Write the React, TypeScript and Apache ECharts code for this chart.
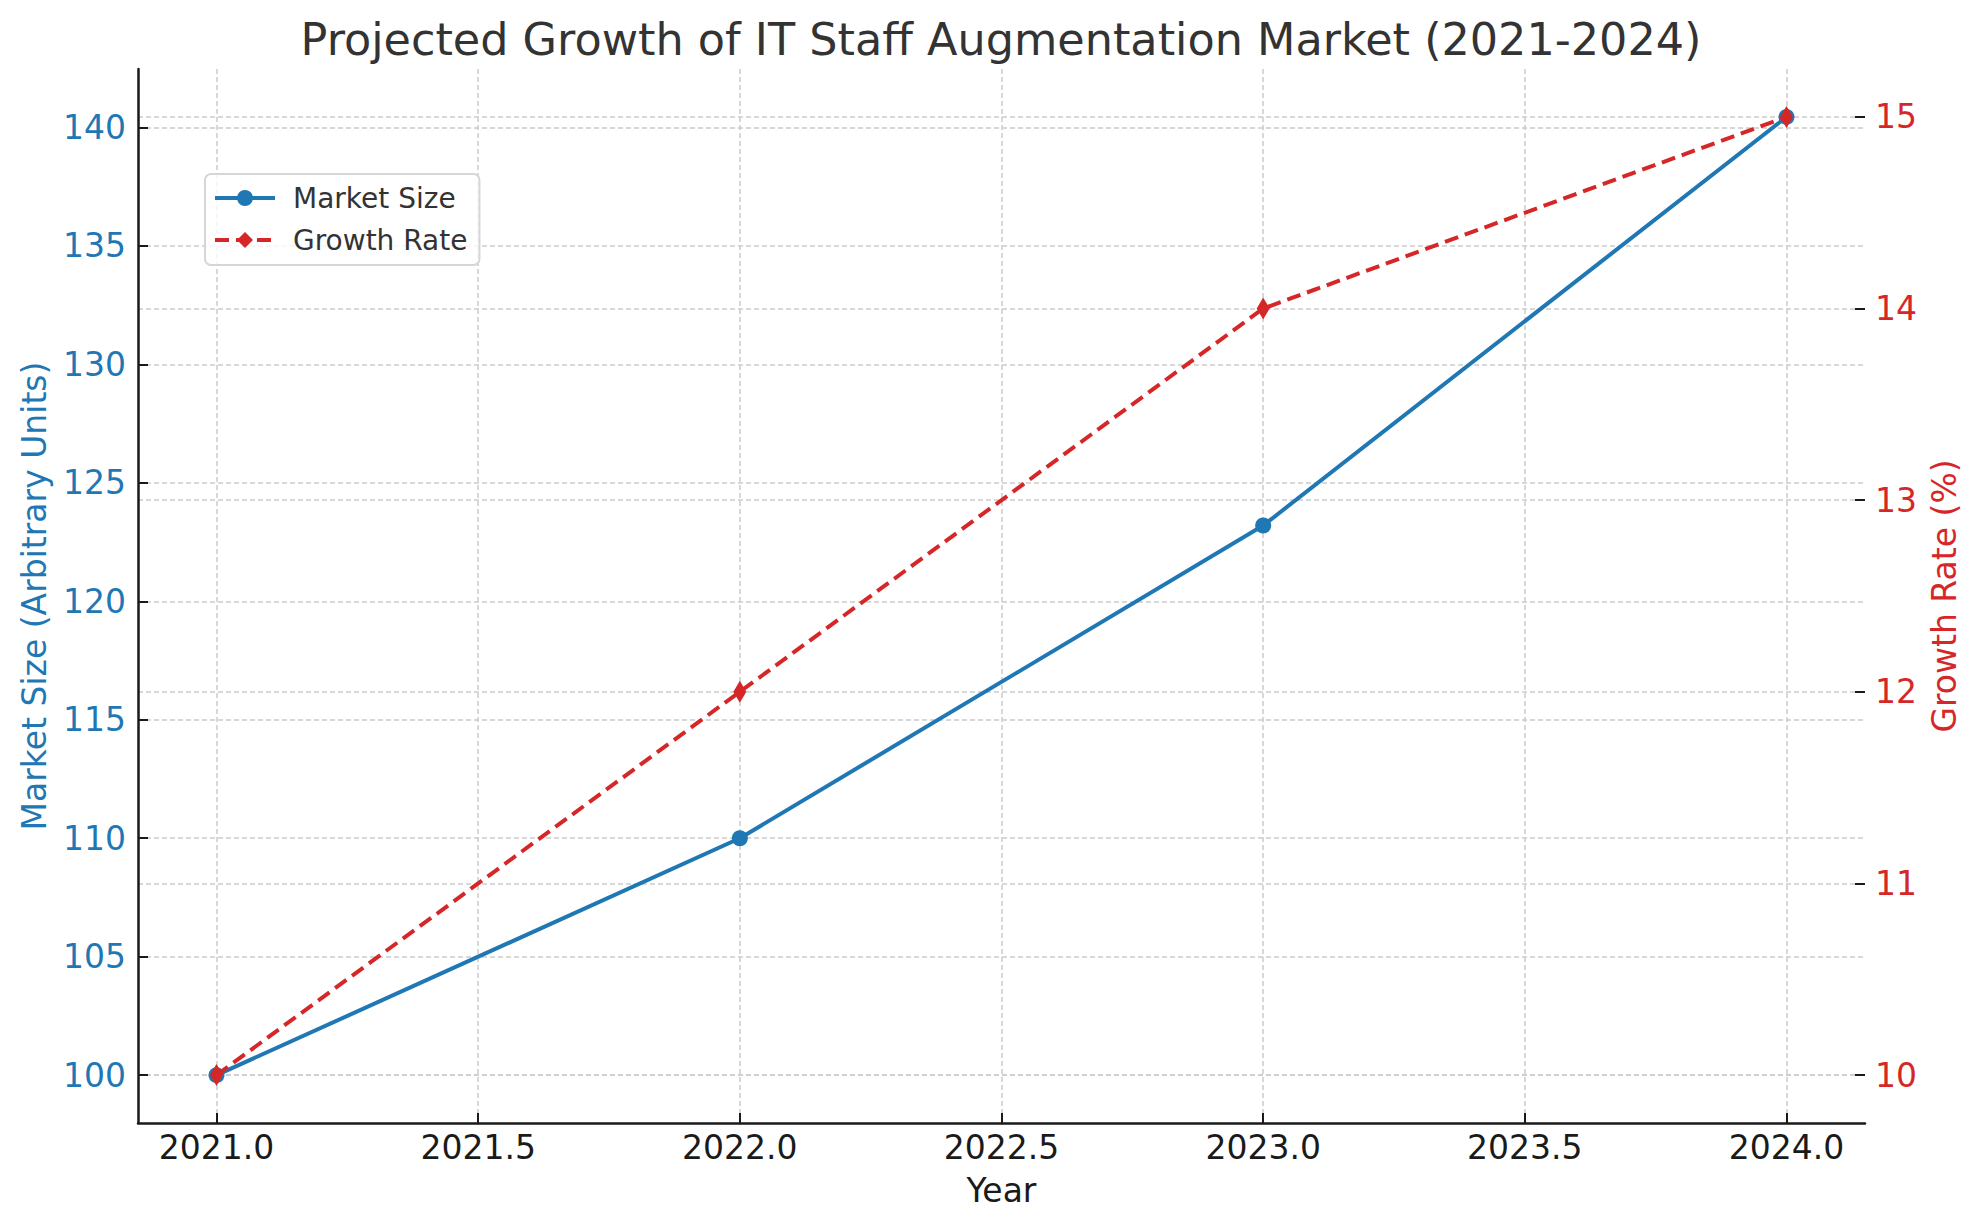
import React, { useEffect, useRef } from "react";
import * as echarts from "echarts";

const years = [2021, 2022, 2023, 2024];
const marketSize = [100, 110, 123.2, 140.448];
const growthRate = [10, 12, 14, 15];
const xTicks = [2021, 2021.5, 2022, 2022.5, 2023, 2023.5, 2024];
const leftTicks = [100, 105, 110, 115, 120, 125, 130, 135, 140];
const rightTicks = [10, 11, 12, 13, 14, 15];

const FONT = "DejaVu Sans";
const BLUE = "#1f77b4";
const RED = "#d62728";
const GRID = { color: "#cccccc", width: 1.5, type: [5, 3] as number[] };

export default function App() {
  const ref = useRef<HTMLDivElement>(null);
  useEffect(() => {
    document.body.style.margin = "0";
    const chart = echarts.init(ref.current!, null, { renderer: "svg" });
    const option: any = {
      animation: false,
      backgroundColor: "#ffffff",
      textStyle: { fontFamily: FONT },
      title: {
        text: "Projected Growth of IT Staff Augmentation Market (2021-2024)",
        left: 996,
        top: 12,
        textAlign: "center",
        textStyle: { fontFamily: FONT, fontSize: 44.5, fontWeight: "normal", color: "#333333" },
      },
      legend: {
        orient: "vertical",
        left: 205,
        top: 174,
        padding: [10, 12, 11, 8],
        itemGap: 14,
        itemWidth: 60,
        itemHeight: 20,
        backgroundColor: "rgba(255,255,255,0.8)",
        borderColor: "#d6d6d6",
        borderWidth: 2,
        borderRadius: 6,
        lineStyle: { width: 4 },
        textStyle: { fontFamily: FONT, fontSize: 28, color: "#333333", padding: [0, 0, 0, 13] },
        data: ["Market Size", "Growth Rate"],
      },
      grid: { left: 138, right: 115, top: 69, bottom: 107, containLabel: false },
      xAxis: {
        type: "value",
        min: 2020.85,
        max: 2024.15,
        name: "Year",
        nameLocation: "middle",
        nameGap: 51,
        nameTextStyle: { fontFamily: FONT, fontSize: 33, color: "#1a1a1a" },
        axisLine: { show: true, onZero: false, lineStyle: { color: "#1a1a1a", width: 2.5 } },
        axisTick: { show: true, inside: true, length: 10, customValues: xTicks, lineStyle: { color: "#1a1a1a", width: 2 } },
        axisLabel: {
          customValues: xTicks,
          margin: 8,
          fontFamily: FONT,
          fontSize: 33,
          color: "#1a1a1a",
          formatter: (v: number) => v.toFixed(1),
        },
        splitLine: { show: true, lineStyle: GRID },
      },
      yAxis: [
        {
          type: "value",
          min: 97.98,
          max: 142.47,
          position: "left",
          name: "Market Size (Arbitrary Units)",
          nameLocation: "middle",
          nameGap: 87,
          nameTextStyle: { fontFamily: FONT, fontSize: 33, color: BLUE },
          axisLine: { show: true, lineStyle: { color: "#1a1a1a", width: 2.5 } },
          axisTick: { show: true, inside: true, length: 10, customValues: leftTicks, lineStyle: { color: "#1a1a1a", width: 2 } },
          axisLabel: {
            customValues: leftTicks,
            margin: 12,
            fontFamily: FONT,
            fontSize: 33,
            color: BLUE,
            formatter: (v: number) => String(Math.round(v)),
          },
          splitLine: { show: true, lineStyle: GRID },
        },
        {
          type: "value",
          min: 9.75,
          max: 15.25,
          position: "right",
          name: "Growth Rate (%)",
          nameLocation: "middle",
          nameGap: 60,
          nameTextStyle: { fontFamily: FONT, fontSize: 33, color: RED },
          axisLine: { show: false },
          axisTick: { show: true, inside: true, length: 10, customValues: rightTicks, lineStyle: { color: "#1a1a1a", width: 2 } },
          axisLabel: {
            customValues: rightTicks,
            margin: 10,
            fontFamily: FONT,
            fontSize: 33,
            color: RED,
            formatter: (v: number) => String(Math.round(v)),
          },
          splitLine: { show: true, lineStyle: GRID },
        },
      ],
      series: [
        {
          name: "Market Size",
          type: "line",
          yAxisIndex: 0,
          data: years.map((y, i) => [y, marketSize[i]]),
          symbol: "circle",
          symbolSize: 16,
          showAllSymbol: true,
          itemStyle: { color: BLUE },
          lineStyle: { color: BLUE, width: 4 },
          z: 3,
        },
        {
          name: "Growth Rate",
          type: "line",
          yAxisIndex: 1,
          data: years.map((y, i) => [y, growthRate[i]]),
          symbol: "diamond",
          symbolSize: [13, 22],
          showAllSymbol: true,
          itemStyle: { color: RED },
          lineStyle: { color: RED, width: 4, type: [14, 7] },
          z: 4,
        },
      ],
    };
    chart.setOption(option);
    return () => chart.dispose();
  }, []);
  return <div ref={ref} style={{ width: 1980, height: 1230 }} />;
}
